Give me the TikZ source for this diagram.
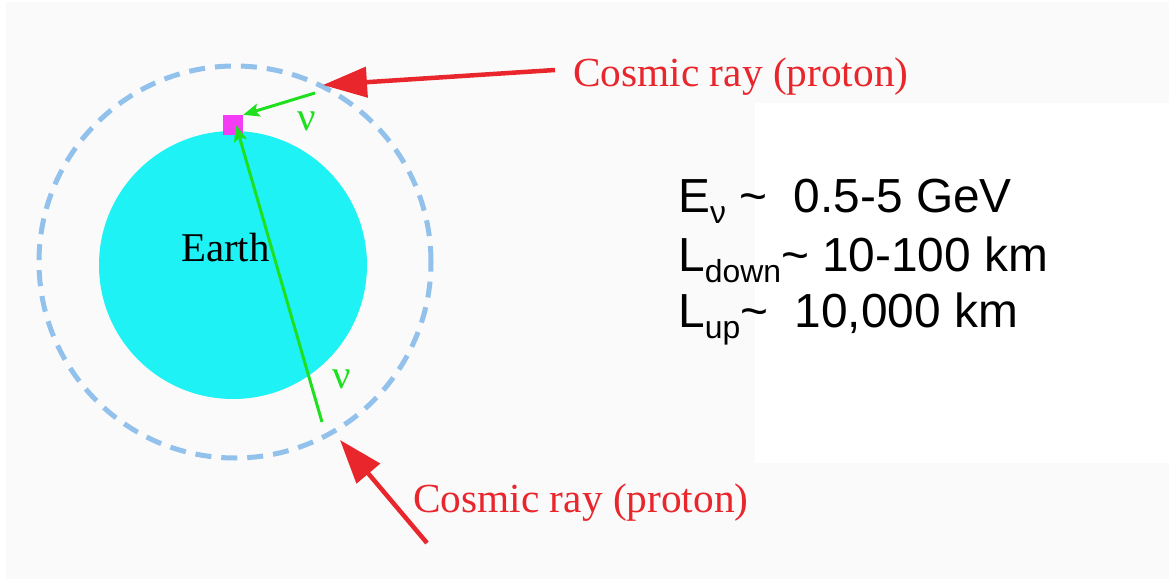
\documentclass[tikz,border=0pt]{standalone}
\usepackage{fontspec}
\setmainfont{Liberation Serif}
\setsansfont{Liberation Sans}
\usetikzlibrary{arrows.meta}
\definecolor{paper}{HTML}{FAFAFA}
\definecolor{earthcyan}{HTML}{1EF2F4}
\definecolor{atmblue}{HTML}{92C1EC}
\definecolor{rayred}{HTML}{E8262C}
\definecolor{nugreen}{HTML}{1EE01E}
\definecolor{detmagenta}{HTML}{F43CF4}
\newcommand{\lowsub}[1]{\raisebox{-11bp}{\fontsize{32}{32}\selectfont #1}}

\begin{document}
\begin{tikzpicture}[x=1bp,y=-1bp,
		raylbl/.style={text=rayred,font=\fontsize{41.5}{48}\selectfont,anchor=base west,inner sep=0pt},
		ray/.style={draw=rayred,line width=4.5bp,-{Triangle[length=44bp,width=30bp]}},
		nu/.style={draw=nugreen,line width=3bp,-{Stealth[length=16bp,width=13bp,inset=3bp]}},
		nulbl/.style={text=nugreen,font=\fontsize{41}{41}\selectfont,inner sep=0pt},
		info/.style={font=\sffamily\fontsize{48}{54}\selectfont,anchor=base west,inner sep=0pt}]
			\useasboundingbox (0,0) rectangle (1169,579);
			\fill[white] (0,0) rectangle (1169,579);
			\fill[paper] (6,2) rectangle (1169,579);
			\fill[white] (755,103) rectangle (1169,463);
			% earth and atmosphere
			\fill[earthcyan] (233,265) circle[radius=134bp];
			\draw[atmblue,line width=5bp,dash pattern=on 16bp off 10bp] (235,262) circle[radius=196bp];
			\node[anchor=base west,inner sep=0pt,font=\fontsize{41}{41}\selectfont] (earth) at (181,262) {Earth};
			\node[fill=detmagenta,minimum size=20bp,inner sep=0pt] (det) at (233,125) {};
			% cosmic rays
			\coordinate (crdown) at (555,70);
			\coordinate (hitdown) at (323,85);
			\coordinate (crup) at (427,543);
			\coordinate (hitup) at (340,440);
			\node[raylbl] (lbldown) at (573,87) {Cosmic ray (proton)};
			\node[raylbl] (lblup) at (413,512) {Cosmic ray (proton)};
			\draw[ray] (crdown) -- (hitdown);
			\draw[ray] (crup) -- (hitup);
			% neutrinos
			\coordinate (nudown) at (315,93);
			\coordinate (nuup) at (322,422);
			\draw[nu] (nudown) -- (det.north east);
			\draw[nu] (nuup) -- ([xshift=3bp,yshift=10bp]det.south);
			\node[nulbl] (nulbldown) at (307,121) {ν};
			\node[nulbl] (nulblup) at (342,379) {ν};
			% energies and baselines
			\node[info] (energy) at (678,213) {E\lowsub{ν} \textasciitilde\ \ 0.5-5 GeV};
			\node[info] (ldown) at (678,272) {L\lowsub{down}\textasciitilde\ 10-100 km};
			\node[info] (lup) at (678,328) {L\lowsub{up}\textasciitilde\ \ 10,000 km};
		\end{tikzpicture}
\end{document}
